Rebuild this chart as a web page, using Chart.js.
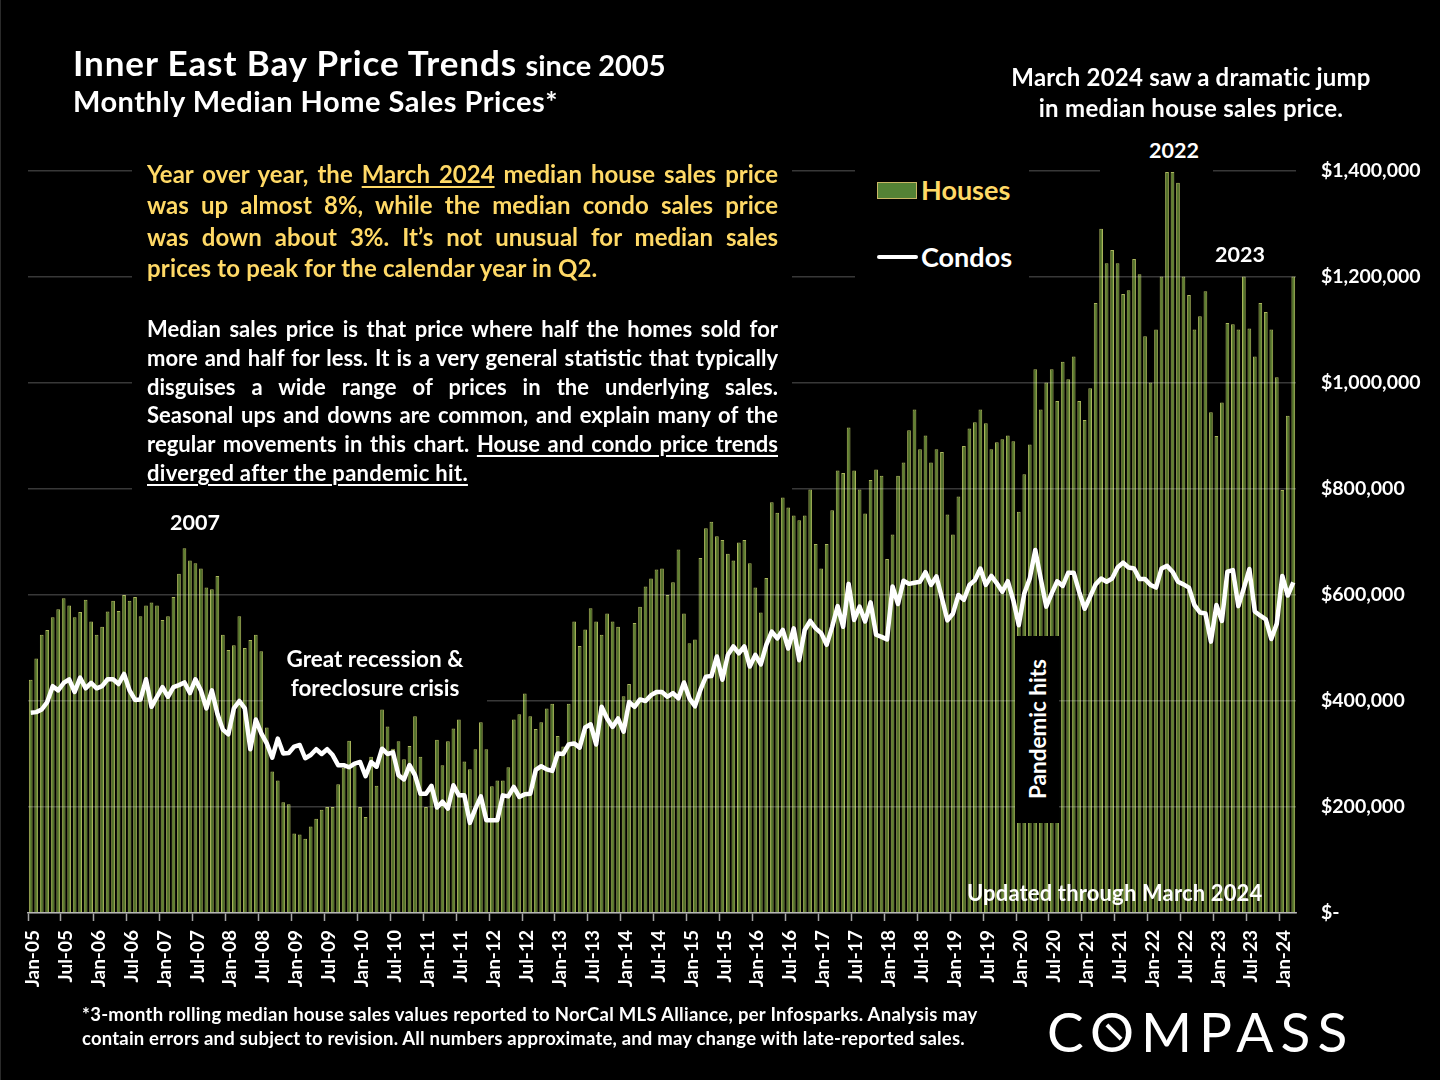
<!DOCTYPE html>
<html>
<head>
<meta charset="utf-8">
<title>Inner East Bay Price Trends</title>
<script src="https://cdn.jsdelivr.net/npm/chart.js@4"></script>
<style>
    html, body { margin: 0; padding: 0; background: #000; }
    #page { position: relative; width: 1440px; height: 1080px; overflow: hidden; background: #000; font-family: Lato, sans-serif; font-weight: 700; color: #fff; }
    #priceChart { position: absolute; left: 0; top: 0; }
    .t { position: absolute; white-space: nowrap; line-height: 1; }
    .mask { position: absolute; background: #000; }
    .c { transform: translate(-50%, -50%); }
    .line { position: absolute; left: 147px; width: 631px; white-space: nowrap; text-align: justify; text-align-last: justify; line-height: 1; }
    .gold { color: #ffd966; font-size: 24px; }
    .body { font-size: 22px; }
    .last { text-align-last: left; }
    u { text-underline-offset: 3px; text-decoration-thickness: 2px; }
</style>
</head>
<body>
<div id="page">
    <canvas id="priceChart" width="1440" height="1080"></canvas>
    <div style="position:absolute;left:0;top:0;width:1px;height:1080px;background:#2a2a2a"></div>

    <!-- black boxes behind the text, they break the gridlines like in the slide -->
    <div class="mask" style="left:132px;top:160px;width:660px;height:335px"></div>
    <div class="mask" style="left:855px;top:160px;width:174px;height:125px"></div>
    <div class="mask" style="left:1100px;top:135px;width:113px;height:37px"></div>
    <div class="mask" style="left:263px;top:645px;width:224px;height:60px"></div>
    <div class="mask" style="left:1015px;top:636px;width:44px;height:187px"></div>

    <div class="t" style="left:73px;top:45px;font-size:35px"><span style="letter-spacing:0.9px">Inner East Bay Price Trends</span> <span style="font-size:29px">since 2005</span></div>
    <div class="t" style="left:73px;top:86px;font-size:29px;letter-spacing:0.5px">Monthly Median Home Sales Prices*</div>

    <div class="t c" style="left:1191px;top:77px;font-size:24px;letter-spacing:0.2px">March 2024 saw a dramatic jump</div>
    <div class="t c" style="left:1191px;top:108px;font-size:24px;letter-spacing:0.3px">in median house sales price.</div>

    <div class="line gold" style="top:162px">Year over year, the <u>March 2024</u> median house sales price</div>
    <div class="line gold" style="top:193px">was up almost 8%, while the median condo sales price</div>
    <div class="line gold" style="top:225px">was down about 3%. It’s not unusual for median sales</div>
    <div class="line gold last" style="top:256px;letter-spacing:0.15px">prices to peak for the calendar year in Q2.</div>

    <div class="line body" style="top:318px">Median sales price is that price where half the homes sold for</div>
    <div class="line body" style="top:347px">more and half for less. It is a very general statistic that typically</div>
    <div class="line body" style="top:376px">disguises a wide range of prices in the underlying sales.</div>
    <div class="line body" style="top:404px">Seasonal ups and downs are common, and explain many of the</div>
    <div class="line body" style="top:433px">regular movements in this chart. <u>House and condo price trends</u></div>
    <div class="line body last" style="top:462px;letter-spacing:0.3px"><u>diverged after the pandemic hit.</u></div>

    <!-- legend -->
    <div style="position:absolute;left:877px;top:182px;width:38px;height:15px;background:#548235;border:1px solid #c9b765"></div>
    <div class="t" style="left:921px;top:176px;font-size:27px;color:#ffd966">Houses</div>
    <div style="position:absolute;left:877px;top:255px;width:41px;height:4px;background:#fff;border-radius:2px"></div>
    <div class="t" style="left:921px;top:243px;font-size:27px">Condos</div>

    <div class="t c" style="left:1174px;top:151px;font-size:21.5px">2022</div>
    <div class="t c" style="left:1240px;top:255px;font-size:21.5px">2023</div>
    <div class="t c" style="left:195px;top:523px;font-size:21.5px">2007</div>
    <div class="t c" style="left:375px;top:659px;font-size:22.5px">Great recession &amp;</div>
    <div class="t c" style="left:375px;top:688px;font-size:22.5px">foreclosure crisis</div>
    <div class="t c" style="left:1038px;top:729px;font-size:22.5px;transform:translate(-50%,-50%) rotate(-90deg)">Pandemic hits</div>
    <div class="t" style="left:967px;top:882px;font-size:22px;letter-spacing:0.15px">Updated through March 2024</div>

    <div class="t" style="left:82px;top:1005px;font-size:18.5px;letter-spacing:0.28px">*3-month rolling median house sales values reported to NorCal MLS Alliance, per Infosparks. Analysis may</div>
    <div class="t" style="left:82px;top:1029px;font-size:18.5px;letter-spacing:0.19px">contain errors and subject to revision. All numbers approximate, and may change with late-reported sales.</div>

    <div class="t" style="left:1047px;top:1004px;font-size:55px;font-weight:400;letter-spacing:7px">COMPASS</div>
    <div style="position:absolute;left:1104px;top:1030px;width:20px;height:4px;background:#fff;transform:rotate(45deg)"></div>
</div>

<script>
// Monthly categories, Jan-05 to Mar-24
const months = [
    'Jan-05','Feb-05','Mar-05','Apr-05','May-05','Jun-05','Jul-05','Aug-05','Sep-05','Oct-05','Nov-05','Dec-05',
    'Jan-06','Feb-06','Mar-06','Apr-06','May-06','Jun-06','Jul-06','Aug-06','Sep-06','Oct-06','Nov-06','Dec-06',
    'Jan-07','Feb-07','Mar-07','Apr-07','May-07','Jun-07','Jul-07','Aug-07','Sep-07','Oct-07','Nov-07','Dec-07',
    'Jan-08','Feb-08','Mar-08','Apr-08','May-08','Jun-08','Jul-08','Aug-08','Sep-08','Oct-08','Nov-08','Dec-08',
    'Jan-09','Feb-09','Mar-09','Apr-09','May-09','Jun-09','Jul-09','Aug-09','Sep-09','Oct-09','Nov-09','Dec-09',
    'Jan-10','Feb-10','Mar-10','Apr-10','May-10','Jun-10','Jul-10','Aug-10','Sep-10','Oct-10','Nov-10','Dec-10',
    'Jan-11','Feb-11','Mar-11','Apr-11','May-11','Jun-11','Jul-11','Aug-11','Sep-11','Oct-11','Nov-11','Dec-11',
    'Jan-12','Feb-12','Mar-12','Apr-12','May-12','Jun-12','Jul-12','Aug-12','Sep-12','Oct-12','Nov-12','Dec-12',
    'Jan-13','Feb-13','Mar-13','Apr-13','May-13','Jun-13','Jul-13','Aug-13','Sep-13','Oct-13','Nov-13','Dec-13',
    'Jan-14','Feb-14','Mar-14','Apr-14','May-14','Jun-14','Jul-14','Aug-14','Sep-14','Oct-14','Nov-14','Dec-14',
    'Jan-15','Feb-15','Mar-15','Apr-15','May-15','Jun-15','Jul-15','Aug-15','Sep-15','Oct-15','Nov-15','Dec-15',
    'Jan-16','Feb-16','Mar-16','Apr-16','May-16','Jun-16','Jul-16','Aug-16','Sep-16','Oct-16','Nov-16','Dec-16',
    'Jan-17','Feb-17','Mar-17','Apr-17','May-17','Jun-17','Jul-17','Aug-17','Sep-17','Oct-17','Nov-17','Dec-17',
    'Jan-18','Feb-18','Mar-18','Apr-18','May-18','Jun-18','Jul-18','Aug-18','Sep-18','Oct-18','Nov-18','Dec-18',
    'Jan-19','Feb-19','Mar-19','Apr-19','May-19','Jun-19','Jul-19','Aug-19','Sep-19','Oct-19','Nov-19','Dec-19',
    'Jan-20','Feb-20','Mar-20','Apr-20','May-20','Jun-20','Jul-20','Aug-20','Sep-20','Oct-20','Nov-20','Dec-20',
    'Jan-21','Feb-21','Mar-21','Apr-21','May-21','Jun-21','Jul-21','Aug-21','Sep-21','Oct-21','Nov-21','Dec-21',
    'Jan-22','Feb-22','Mar-22','Apr-22','May-22','Jun-22','Jul-22','Aug-22','Sep-22','Oct-22','Nov-22','Dec-22',
    'Jan-23','Feb-23','Mar-23','Apr-23','May-23','Jun-23','Jul-23','Aug-23','Sep-23','Oct-23','Nov-23','Dec-23',
    'Jan-24','Feb-24','Mar-24'
];

// Median prices in $ thousands, one row per year
const housePrices = [
    440,480,525,534,558,573,594,580,558,568,591,550,
    525,540,569,589,570,600,589,596,560,580,586,580,
    553,560,596,640,688,665,660,650,614,611,636,525,
    496,505,560,500,515,525,494,350,267,250,209,205,
    150,148,140,163,178,195,200,200,243,274,325,279,
    200,181,295,240,384,352,310,324,290,315,371,295,
    200,241,327,279,324,348,365,286,271,309,360,309,
    239,250,250,275,365,375,414,371,347,360,386,395,
    334,314,395,550,504,535,575,550,525,565,550,540,
    409,432,547,578,616,631,648,650,600,624,686,565,
    509,516,670,726,738,711,704,678,665,699,704,660,
    614,567,632,775,755,784,765,750,741,750,799,696,
    650,696,760,835,830,916,835,799,754,817,837,825,
    668,714,825,850,911,950,875,901,850,875,870,752,
    714,786,881,914,926,950,924,875,888,894,901,890,
    757,828,884,1026,950,1001,1026,966,1040,1007,1050,966,
    930,990,1151,1291,1226,1251,1226,1168,1175,1234,1205,1088,
    1001,1101,1201,1398,1398,1378,1201,1166,1101,1126,1173,945,
    900,963,1113,1111,1101,1201,1103,1050,1151,1134,1101,1011,
    798,938,1201
];

const condoPrices = [
    378,379,384,398,428,420,434,441,417,444,424,434,
    424,428,441,441,432,451,420,402,403,441,389,408,
    426,408,426,430,435,415,441,420,386,420,376,346,
    337,386,400,386,309,365,339,320,293,329,301,302,
    314,317,292,298,309,300,309,298,279,279,275,282,
    285,258,285,276,310,300,303,260,252,279,260,225,
    225,240,199,210,197,241,222,222,170,197,220,175,
    175,175,222,220,238,219,224,225,270,277,271,268,
    301,300,318,320,312,350,356,318,389,367,351,367,
    342,398,389,403,400,411,417,417,408,415,405,435,
    405,390,421,446,447,484,440,487,503,490,503,465,
    487,469,506,531,518,534,499,537,477,534,551,537,
    528,506,540,579,540,621,553,578,550,586,525,521,
    516,616,583,627,621,623,625,643,619,635,594,552,
    565,600,591,619,628,650,619,636,622,606,626,590,
    543,603,631,685,631,578,603,626,617,642,642,606,
    574,597,620,631,625,631,652,661,652,650,630,630,
    619,614,650,655,644,625,620,614,581,567,565,512,
    581,551,644,647,579,613,649,569,561,554,517,546,
    636,599,624
];

// y axis ticks in $ thousands
const priceTicks = [0, 200, 400, 600, 800, 1000, 1200, 1400];

const labelEvery = 6;

function priceLabel(value) {
    if (value === 0) return '$-';
    return '$' + (value * 1000).toLocaleString('en-US');
}

new Chart(document.getElementById('priceChart'), {
    data: {
        labels: months,
        datasets: [
            {
                type: 'line',
                label: 'Condos',
                data: condoPrices,
                borderColor: '#ffffff',
                borderWidth: 4.5,
                pointRadius: 0,
                tension: 0,
                borderJoinStyle: 'round',
                order: 1
            },
            {
                type: 'bar',
                label: 'Houses',
                data: housePrices,
                backgroundColor: '#5f8232',
                borderColor: '#aab55c',
                borderWidth: 1,
                barPercentage: 0.68,
                categoryPercentage: 1,
                order: 2
            }
        ]
    },
    options: {
        responsive: false,
        animation: false,
        devicePixelRatio: 1,
        layout: { padding: { left: 28, top: 171, right: 0, bottom: 0 } },
        plugins: {
            legend: { display: false },
            tooltip: { enabled: false }
        },
        scales: {
            x: {
                afterFit: scale => { scale.height = 167; },
                border: { color: '#a6a6a6', width: 1.5 },
                grid: {
                    offset: true,
                    drawOnChartArea: false,
                    tickLength: 8,
                    tickWidth: 1.5,
                    tickColor: ctx => (ctx.index % labelEvery === 0 ? '#a6a6a6' : 'rgba(0,0,0,0)')
                },
                ticks: {
                    autoSkip: false,
                    minRotation: 90,
                    maxRotation: 90,
                    padding: 9,
                    labelOffset: 2,
                    color: '#ffffff',
                    font: { family: 'Lato', size: 19, weight: 'bold' },
                    callback: (value, index) => (index % labelEvery === 0 ? months[index] : '')
                }
            },
            y: {
                position: 'right',
                min: 0,
                max: 1400,
                afterFit: scale => { scale.width = 144; },
                afterBuildTicks: scale => { scale.ticks = priceTicks.map(v => ({ value: v })); },
                border: { display: false },
                grid: {
                    z: 1,
                    drawTicks: false,
                    color: 'rgba(255,255,255,0.22)',
                    lineWidth: 1.5
                },
                ticks: {
                    padding: 25,
                    crossAlign: 'near',
                    color: '#ffffff',
                    font: { family: 'Lato', size: 19.5, weight: 'bold' },
                    callback: priceLabel
                }
            }
        }
    }
});
</script>
</body>
</html>
